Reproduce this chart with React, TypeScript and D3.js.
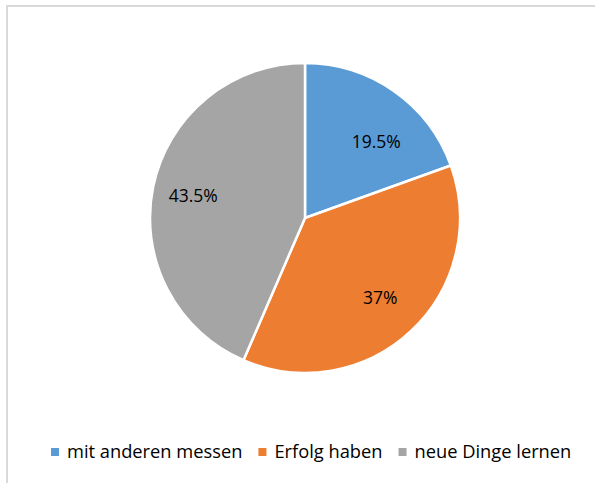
//@ts-nocheck
import * as d3 from "d3";
import { useEffect, useRef } from "react";

const categories = ["mit anderen messen", "Erfolg haben", "neue Dinge lernen"];
const values = [19.5, 37, 43.5];
const labels = ["19.5%", "37%", "43.5%"];
const colors = ["#5B9BD5", "#ED7D31", "#A5A5A5"];

const App = () => {
  const ref = useRef(null);

  useEffect(() => {
    const svg = d3.select(ref.current);
    svg.selectAll("*").remove();
    const width = 595, height = 483;
    const cx = 305, cy = 218, radius = 155;
    const font = "Open Sans, Noto Sans, sans-serif";

    svg.attr("width", width).attr("height", height);
    svg.append("rect").attr("width", width).attr("height", height).attr("fill", "#fff");

    // chart frame (only top and left edges are visible in the crop)
    svg.append("rect")
      .attr("x", 7).attr("y", 6)
      .attr("width", width + 20).attr("height", height + 20)
      .attr("fill", "none").attr("stroke", "#d9d9d9").attr("stroke-width", 2);

    const pie = d3.pie().sort(null).value(d => d);
    const arcs = pie(values);
    const arc = d3.arc().innerRadius(0).outerRadius(radius);
    const labelArc = d3.arc().innerRadius(radius * 0.71).outerRadius(radius * 0.71);

    const g = svg.append("g").attr("transform", `translate(${cx},${cy})`);
    g.selectAll("path")
      .data(arcs)
      .enter()
      .append("path")
      .attr("d", arc)
      .attr("fill", (d, i) => colors[i])
      .attr("stroke", "#fff")
      .attr("stroke-width", 2.5)
      .attr("stroke-linejoin", "round");

    g.selectAll("text")
      .data(arcs)
      .enter()
      .append("text")
      .attr("transform", (d, i) => {
        const [x, y] = labelArc.centroid(d);
        // Excel "best fit" pushes the small slice label a bit down
        return i === 0 ? `translate(${x + 8},${y + 14})` : i === 2 ? `translate(${x - 4},${y})` : `translate(${x},${y})`;
      })
      .attr("text-anchor", "middle")
      .attr("dy", "0.35em")
      .style("font-family", font)
      .style("font-size", "17.5px")
      .attr("fill", "#000")
      .text((d, i) => labels[i]);

    // legend
    const legend = svg.append("g").attr("transform", "translate(51,452)");
    let x = 0;
    categories.forEach((c, i) => {
      const item = legend.append("g").attr("transform", `translate(${x},0)`);
      item.append("rect").attr("x", 0).attr("y", -4).attr("width", 8).attr("height", 8).attr("fill", colors[i]);
      const t = item.append("text")
        .attr("x", 16).attr("dy", "0.35em")
        .style("font-family", font)
        .style("font-size", "18.3px")
        .attr("fill", "#000")
        .text(c);
      x += 16 + t.node().getComputedTextLength() + 16;
    });
  }, []);

  return (
    <div style={{ position: "absolute", left: 0, top: 0 }}>
      <svg ref={ref}></svg>
    </div>
  );
};

export default App;
